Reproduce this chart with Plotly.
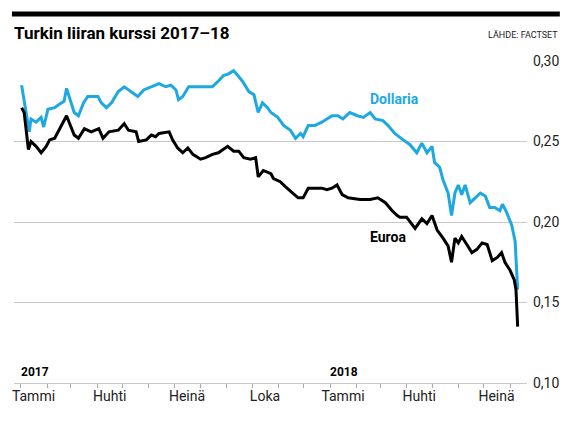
import plotly.graph_objs as go

# USD per TRY (Dollaria)
usd_dates = [
    "2017-01-02", "2017-01-11", "2017-01-13", "2017-01-19", "2017-01-25", "2017-01-28",
    "2017-02-02", "2017-02-10", "2017-02-15", "2017-02-21", "2017-02-24", "2017-03-05",
    "2017-03-10", "2017-03-16", "2017-03-21", "2017-04-02", "2017-04-06", "2017-04-12",
    "2017-04-18", "2017-04-26", "2017-05-03", "2017-05-11", "2017-05-19", "2017-05-26",
    "2017-06-04", "2017-06-13", "2017-06-21", "2017-06-27", "2017-07-03", "2017-07-06",
    "2017-07-11", "2017-07-18", "2017-07-24", "2017-08-01", "2017-08-09", "2017-08-15",
    "2017-08-21", "2017-08-28", "2017-09-03", "2017-09-09", "2017-09-14", "2017-09-20",
    "2017-09-27", "2017-10-03", "2017-10-08", "2017-10-13", "2017-10-19", "2017-10-23",
    "2017-10-31", "2017-11-07", "2017-11-15", "2017-11-21", "2017-11-27", "2017-11-30",
    "2017-12-06", "2017-12-14", "2017-12-22", "2018-01-03", "2018-01-10", "2018-01-16",
    "2018-01-24", "2018-02-02", "2018-02-09", "2018-02-17", "2018-02-23", "2018-03-04",
    "2018-03-10", "2018-03-18", "2018-03-28", "2018-04-05", "2018-04-13", "2018-04-19",
    "2018-04-25", "2018-05-01", "2018-05-04", "2018-05-10", "2018-05-14", "2018-05-20",
    "2018-05-24", "2018-05-28", "2018-06-01", "2018-06-05", "2018-06-09", "2018-06-15",
    "2018-06-21", "2018-06-27", "2018-07-03", "2018-07-08", "2018-07-14", "2018-07-20",
    "2018-07-23", "2018-07-28", "2018-08-03", "2018-08-07", "2018-08-10",
]
usd_values = [
    0.285, 0.256, 0.264, 0.262, 0.265, 0.259,
    0.270, 0.271, 0.273, 0.275, 0.283, 0.268,
    0.266, 0.274, 0.278, 0.278, 0.274, 0.271,
    0.274, 0.281, 0.284, 0.281, 0.278, 0.282,
    0.284, 0.286, 0.284, 0.285, 0.282, 0.276,
    0.278, 0.284, 0.284, 0.284, 0.284, 0.284,
    0.287, 0.291, 0.292, 0.294, 0.291, 0.287,
    0.281, 0.279, 0.268, 0.274, 0.271, 0.268,
    0.265, 0.260, 0.257, 0.252, 0.255, 0.253,
    0.260, 0.260, 0.262, 0.266, 0.266, 0.264,
    0.268, 0.266, 0.265, 0.268, 0.264, 0.263,
    0.260, 0.255, 0.251, 0.248, 0.243, 0.249,
    0.243, 0.247, 0.237, 0.234, 0.226, 0.218,
    0.204, 0.218, 0.223, 0.217, 0.223, 0.212,
    0.215, 0.218, 0.216, 0.209, 0.209, 0.207,
    0.211, 0.206, 0.198, 0.188, 0.158,
]

# EUR per TRY (Euroa)
eur_dates = [
    "2017-01-02", "2017-01-05", "2017-01-10", "2017-01-13", "2017-01-19", "2017-01-25",
    "2017-01-31", "2017-02-04", "2017-02-10", "2017-02-15", "2017-02-24", "2017-02-27",
    "2017-03-05", "2017-03-10", "2017-03-17", "2017-03-25", "2017-04-03", "2017-04-08",
    "2017-04-15", "2017-04-26", "2017-05-03", "2017-05-08", "2017-05-17", "2017-05-20",
    "2017-05-29", "2017-06-04", "2017-06-09", "2017-06-13", "2017-06-25", "2017-06-29",
    "2017-07-05", "2017-07-11", "2017-07-17", "2017-07-23", "2017-08-01", "2017-08-07",
    "2017-08-15", "2017-08-22", "2017-09-02", "2017-09-09", "2017-09-15", "2017-09-21",
    "2017-09-29", "2017-10-05", "2017-10-08", "2017-10-14", "2017-10-23", "2017-10-26",
    "2017-11-03", "2017-11-09", "2017-11-17", "2017-11-24", "2017-11-30", "2017-12-06",
    "2017-12-14", "2017-12-22", "2017-12-28", "2018-01-03", "2018-01-09", "2018-01-15",
    "2018-01-22", "2018-02-05", "2018-02-17", "2018-02-26", "2018-03-07", "2018-03-15",
    "2018-03-21", "2018-03-24", "2018-04-01", "2018-04-11", "2018-04-19", "2018-04-25",
    "2018-05-01", "2018-05-07", "2018-05-14", "2018-05-20", "2018-05-24", "2018-05-28",
    "2018-06-01", "2018-06-05", "2018-06-11", "2018-06-17", "2018-06-23", "2018-06-29",
    "2018-07-05", "2018-07-11", "2018-07-17", "2018-07-22", "2018-07-26", "2018-08-01",
    "2018-08-06", "2018-08-08", "2018-08-10",
]
eur_values = [
    0.271, 0.268, 0.245, 0.250, 0.247, 0.243,
    0.247, 0.251, 0.252, 0.257, 0.266, 0.262,
    0.254, 0.252, 0.258, 0.256, 0.258, 0.252,
    0.256, 0.257, 0.261, 0.257, 0.256, 0.250,
    0.251, 0.254, 0.253, 0.255, 0.256, 0.251,
    0.246, 0.243, 0.246, 0.242, 0.239, 0.240,
    0.242, 0.243, 0.247, 0.244, 0.244, 0.240,
    0.239, 0.240, 0.228, 0.232, 0.230, 0.227,
    0.225, 0.222, 0.218, 0.215, 0.215, 0.221,
    0.221, 0.221, 0.220, 0.221, 0.223, 0.217,
    0.215, 0.214, 0.214, 0.215, 0.212, 0.207,
    0.204, 0.203, 0.203, 0.196, 0.202, 0.199,
    0.204, 0.195, 0.190, 0.185, 0.175, 0.190,
    0.187, 0.191, 0.186, 0.181, 0.183, 0.187,
    0.186, 0.176, 0.178, 0.181, 0.175, 0.170,
    0.164, 0.158, 0.135,
]

# month labels, centred in their month
month_ticks = ["2017-01-16", "2017-04-16", "2017-07-16", "2017-10-16",
               "2018-01-16", "2018-04-16", "2018-07-16"]
month_labels = ["Tammi", "Huhti", "Heinä", "Loka", "Tammi", "Huhti", "Heinä"]
year_starts = ["2017-01-01", "2018-01-01"]
year_labels = ["2017", "2018"]

blue = "#1ea8e2"
grid = "#c8c8c8"
font = "Roboto"

fig = go.Figure()
fig.add_trace(go.Scatter(x=usd_dates, y=usd_values, mode="lines",
                         line=dict(color=blue, width=3), name="Dollaria"))
fig.add_trace(go.Scatter(x=eur_dates, y=eur_values, mode="lines",
                         line=dict(color="black", width=3), name="Euroa"))

annotations = [
    dict(text="<b>Dollaria</b>", x="2018-02-14", y=0.2764, xanchor="left",
         yanchor="middle", showarrow=False, font=dict(color=blue, size=14, family=font)),
    dict(text="<b>Euroa</b>", x="2018-02-14", y=0.1905, xanchor="left",
         yanchor="middle", showarrow=False, font=dict(color="black", size=14, family=font)),
    dict(text="<b>Turkin liiran kurssi 2017–18</b>", xref="paper", yref="paper",
         x=-0.004, y=1.087, xanchor="left", yanchor="middle", showarrow=False,
         font=dict(size=17, color="black", family=font)),
    dict(text="LÄHDE: FACTSET", xref="paper", yref="paper", x=1.064, y=1.081,
         xanchor="right", yanchor="middle", showarrow=False,
         font=dict(size=9, color="#222", family=font)),
]
for d, t in zip(year_starts, year_labels):
    annotations.append(dict(text="<b>" + t + "</b>", x=d, y=0.10, xanchor="left",
                            yanchor="bottom", yshift=2, xshift=-2, showarrow=False,
                            font=dict(size=12, color="black", family=font)))

# the page adds an 8px body margin, so the figure is shifted by that amount
fig.update_layout(
    width=570, height=428,
    margin=dict(l=4, r=51, t=53, b=53),
    paper_bgcolor="white", plot_bgcolor="white",
    showlegend=False,
    separators=", ",
    font=dict(family=font, size=14, color="#222"),
    annotations=annotations,
    shapes=[dict(type="line", xref="paper", yref="paper", x0=-0.004, x1=1.064,
                 y0=1.146, y1=1.146, line=dict(color="black", width=5))],
    xaxis=dict(
        type="date", range=["2016-12-24", "2018-08-21"],
        tickvals=month_ticks, ticktext=month_labels, ticks="",
        showgrid=False, showline=True, linecolor=grid, linewidth=1,
        tickfont=dict(size=14, color="#222"),
        minor=dict(dtick="M1", tick0="2017-01-01", ticks="outside", ticklen=4,
                   tickcolor="#aaa", showgrid=False),
    ),
    yaxis=dict(
        range=[0.10, 0.30], dtick=0.05, tickformat=".2f", side="right",
        showgrid=True, gridcolor=grid, gridwidth=1, zeroline=False,
        ticks="", ticklabelstandoff=5, tickfont=dict(size=14, color="#222"),
    ),
)

fig.write_html("out.html")
